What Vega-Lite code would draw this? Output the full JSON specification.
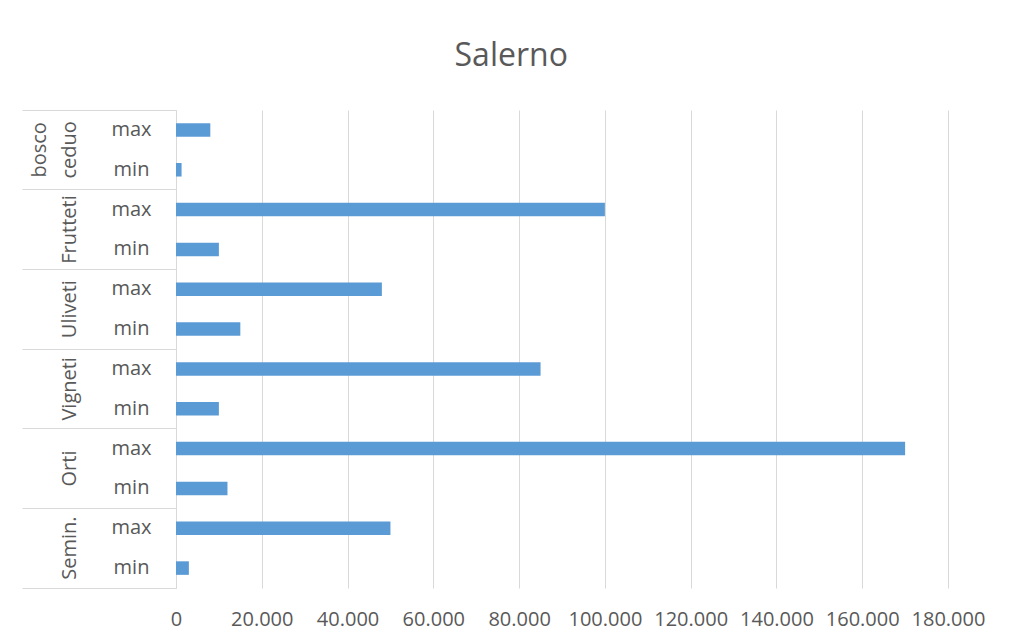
{
  "$schema": "https://vega.github.io/schema/vega-lite/v6.json",
  "width": 772,
  "height": 478,
  "autosize": {"type": "pad"},
  "padding": {"left": 21, "top": 39, "right": 0, "bottom": 6},
  "background": "white",
  "title": {
    "text": "Salerno",
    "font": "Open Sans",
    "fontSize": 32,
    "fontWeight": "normal",
    "color": "#595959",
    "anchor": "middle",
    "frame": "bounds",
    "offset": 37,
    "dx": 8
  },
  "data": {
    "values": [
      {"group": "bosco ceduo", "level": "max", "value": 8000},
      {"group": "bosco ceduo", "level": "min", "value": 1300},
      {"group": "Frutteti", "level": "max", "value": 100000},
      {"group": "Frutteti", "level": "min", "value": 10000},
      {"group": "Uliveti", "level": "max", "value": 48000},
      {"group": "Uliveti", "level": "min", "value": 15000},
      {"group": "Vigneti", "level": "max", "value": 85000},
      {"group": "Vigneti", "level": "min", "value": 10000},
      {"group": "Orti", "level": "max", "value": 170000},
      {"group": "Orti", "level": "min", "value": 12000},
      {"group": "Semin.", "level": "max", "value": 50000},
      {"group": "Semin.", "level": "min", "value": 3000}
    ]
  },
  "layer": [
    {
      "transform": [{"calculate": "datum.group + '|' + datum.level", "as": "row"}],
      "mark": {"type": "bar", "color": "#5B9BD5"},
      "encoding": {
        "y": {
          "field": "row",
          "type": "nominal",
          "sort": null,
          "scale": {"paddingInner": 0.66, "paddingOuter": 0.33},
          "axis": {
            "orient": "left",
            "title": null,
            "labelExpr": "split(datum.value, '|')[1]",
            "ticks": false,
            "tickSize": 0,
            "grid": false,
            "domain": true,
            "domainColor": "#D9D9D9",
            "domainWidth": 1,
            "labelAlign": "center",
            "labelPadding": 45
          }
        },
        "x": {
          "field": "value",
          "type": "quantitative",
          "scale": {"domain": [0, 180000], "nice": false},
          "axis": {
            "title": null,
            "values": [0, 20000, 40000, 60000, 80000, 100000, 120000, 140000, 160000, 180000],
            "labelExpr": "datum.value == 0 ? '0' : format(datum.value / 1000, 'd') + '.000'",
            "domain": false,
            "ticks": false,
            "grid": true,
            "gridColor": "#D9D9D9",
            "gridWidth": 1,
            "labelFlush": false,
            "labelOverlap": false,
            "labelPadding": 21
          }
        }
      }
    },
    {
      "mark": {"type": "point", "opacity": 0},
      "encoding": {
        "y": {
          "field": "group",
          "type": "nominal",
          "sort": null,
          "scale": {"type": "band", "paddingInner": 0, "paddingOuter": 0},
          "axis": {
            "orient": "left",
            "title": null,
            "domain": false,
            "grid": false,
            "ticks": true,
            "tickSize": 154,
            "tickColor": "#D9D9D9",
            "tickWidth": 1,
            "bandPosition": 1,
            "tickExtra": true,
            "labelAngle": -90,
            "labelAlign": "center",
            "labelBaseline": "bottom",
            "labelPadding": {"condition": {"test": "datum.value == 'bosco ceduo'", "value": -27}, "value": -57},
            "labelLineHeight": 30,
            "labelExpr": "datum.value == 'bosco ceduo' ? ['bosco', 'ceduo'] : datum.value"
          }
        }
      }
    }
  ],
  "resolve": {"scale": {"y": "independent"}},
  "config": {
    "view": {"stroke": null},
    "axis": {
      "labelFont": "Open Sans",
      "labelFontSize": 20,
      "labelColor": "#595959"
    }
  }
}
